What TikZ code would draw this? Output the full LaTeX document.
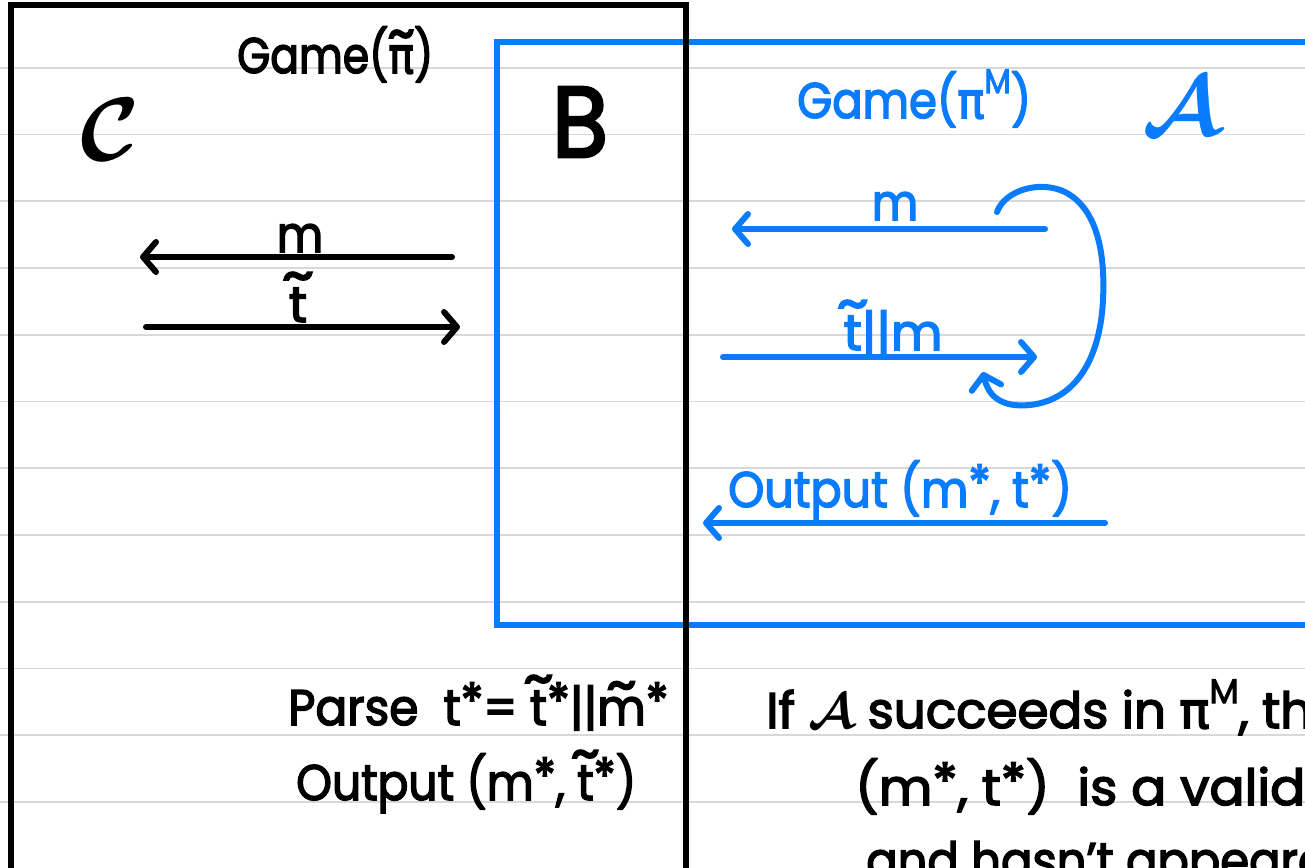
\documentclass[tikz,border=0pt]{standalone}
\usepackage{fix-cm}
\usepackage{bm}
\usepackage{fontspec}
\setmainfont{Poppins}[BoldFont=Poppins, BoldFeatures={FakeBold=3}]
\newfontfamily\grk{DejaVu Sans}[BoldFont=DejaVu Sans, BoldFeatures={FakeBold=3}]
\usetikzlibrary{arrows.meta}
\definecolor{hb}{RGB}{8,124,252}
\definecolor{ruling}{RGB}{216,216,216}
\newsavebox\tldbox
\newlength\tldraise
\newcommand{\tld}[1]{\sbox\tldbox{#1}\setlength\tldraise{\ht\tldbox}\addtolength\tldraise{-0.12em}%
  \leavevmode\rlap{\hbox to \wd\tldbox{\hss\raisebox{\tldraise}{\scalebox{1.25}[1.1]{\textasciitilde}}\hss}}\usebox\tldbox}
\newcommand{\sta}{\raisebox{0.12em}{*}}
\newcommand{\gpi}{{\grk\bfseries π}}
\newcommand{\supM}{\raisebox{0.5em}{\fontsize{34}{34}\selectfont M}}
\newcommand{\cA}{\(\bm{\mathcal{A}}\)}
\begin{document}
\begin{tikzpicture}[x=1pt,y=-1pt,
  txt/.style={inner sep=0pt, font=\fontsize{50}{50}\selectfont\bfseries},
  big/.style={inner sep=0pt, font=\fontsize{90}{90}\selectfont\bfseries},
  msg/.style={line width=6pt, line cap=round, line join=round,
    -{Straight Barb[length=13pt,width=30pt,round]}},
  boxk/.style={line width=5.5pt, draw=black},
  boxb/.style={line width=5.5pt, draw=hb}]
\useasboundingbox (0,0) rectangle (1305,867);
\clip (0,0) rectangle (1305,867);
\fill[white] (0,0) rectangle (1305,867);
% ruled paper
\foreach \k in {1,...,13}
  \draw[ruling, line width=1.6pt] (0,{1+66.75*\k}) -- (1305,{1+66.75*\k});
% boxes
\draw[boxb] (497,42) rectangle (1400,625);
\draw[boxk] (11,5) rectangle (686,900);
% titles and parties
\node[txt, anchor=base west] (gameL) at (237,73) {\scalebox{0.85}[1]{Game(\tld{\gpi})}};
\node[big] (C) at (110,130) {\(\bm{\mathcal{C}}\)};
\node[big, font=\fontsize{100}{100}\selectfont\bfseries] (B) at (580,122) {\scalebox{0.92}[1]{B}};
\node[txt, text=hb, anchor=base west] (gameR) at (797,118) {\scalebox{0.9}[1]{Game(\gpi\supM)}};
\node[big, font=\fontsize{85}{85}\selectfont, text=hb] (A) at (1182,106) {\cA};
% black messages
\coordinate (k1s) at (452,257); \coordinate (k1e) at (140,257);
\coordinate (k2s) at (146,327); \coordinate (k2e) at (460,327);
\draw[msg] (k1s) -- (k1e);
\draw[msg] (k2s) -- (k2e);
\node[txt, anchor=base] (lm1) at (300,252) {\scalebox{0.9}[1]{m}};
\node[txt, anchor=base] (lt1) at (298,322) {\tld{t}};
% blue messages
\coordinate (b1s) at (1045,229); \coordinate (b1e) at (732,229);
\coordinate (b2s) at (723,357); \coordinate (b2e) at (1037,357);
\coordinate (b3s) at (1105,523); \coordinate (b3e) at (703,523);
\coordinate (ls) at (997,212); \coordinate (le) at (983,372);
\draw[msg, hb] (b1s) -- (b1e);
\draw[msg, hb] (b2s) -- (b2e);
\draw[msg, hb] (b3s) -- (b3e);
\draw[msg, hb] (ls) .. controls (1005,190) and (1040,180) .. (1065,192)
   .. controls (1100,210) and (1105,260) .. (1103,300)
   .. controls (1100,360) and (1075,400) .. (1030,405)
   .. controls (1000,408) and (988,395) .. (le);
\node[txt, text=hb, anchor=base] (lm2) at (895,220) {\scalebox{0.9}[1]{m}};
\node[txt, text=hb, anchor=base] (ltm2) at (893,350) {\tld{t}||m};
\node[txt, text=hb, anchor=base west] (lout) at (728,507) {\scalebox{0.92}[1]{Output (m\sta, t\sta)}};
% bottom texts
\node[txt, anchor=base west] (parse) at (288,725) {\scalebox{0.94}[1]{Parse\ \ t\sta= \tld{t}\sta||\tld{m}\sta}};
\node[txt, anchor=base west] (outk) at (296,800) {\scalebox{0.91}[1]{Output (m\sta, \tld{t}\sta)}};
\node[txt, anchor=base west] (if1) at (766,728) {If \cA\ succeeds in \gpi\supM, then};
\node[txt, anchor=base west] (if2) at (855,805) {\scalebox{1.04}[1]{(m\sta, t\sta)\ \ is a valid}};
\node[txt, anchor=base west] (if3) at (866,878) {\scalebox{0.93}[1]{and hasn't appeared in}};
\end{tikzpicture}
\end{document}
